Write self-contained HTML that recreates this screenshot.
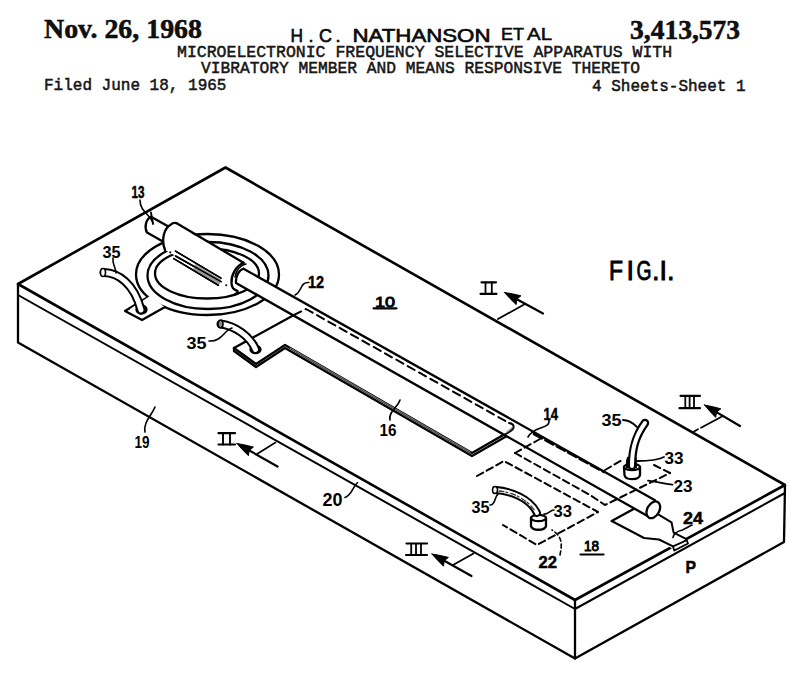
<!DOCTYPE html>
<html><head><meta charset="utf-8">
<style>
html,body{margin:0;padding:0;background:#fff;}
body{width:800px;height:675px;overflow:hidden;position:relative;}
svg{position:absolute;left:0;top:0;}
.mono{font-family:"Liberation Mono",monospace;fill:#222;}
.serif{font-family:"Liberation Serif",serif;font-weight:bold;fill:#111;}
.sans{font-family:"Liberation Sans",sans-serif;fill:#111;}
.lbl{font-family:"Liberation Sans",sans-serif;fill:#000;font-size:17px;font-weight:bold;}
</style></head>
<body>
<svg width="800" height="675" viewBox="0 0 800 675">
<!-- header -->
<text class="serif" x="44" y="37.5" font-size="27" textLength="158" lengthAdjust="spacingAndGlyphs" stroke="#000" stroke-width="0.5">Nov. 26, 1968</text>
<text class="sans" x="290.5" y="42" font-size="18" stroke="#000" stroke-width="0.6" textLength="12.5" lengthAdjust="spacingAndGlyphs">H</text>
<text class="sans" x="308.5" y="42" font-size="18" stroke="#000" stroke-width="0.6">.</text>
<text class="sans" x="319" y="42" font-size="18" stroke="#000" stroke-width="0.6" textLength="13" lengthAdjust="spacingAndGlyphs">C</text>
<text class="sans" x="335.5" y="42" font-size="18" stroke="#000" stroke-width="0.6">.</text>
<text class="sans" x="352.5" y="42" font-size="18" stroke="#000" stroke-width="0.6" textLength="138" lengthAdjust="spacingAndGlyphs">NATHANSON</text>
<text class="sans" x="501" y="40" font-size="17" stroke="#000" stroke-width="0.5" textLength="23" lengthAdjust="spacingAndGlyphs">ET</text>
<text class="sans" x="527" y="40" font-size="17" stroke="#000" stroke-width="0.5" textLength="25" lengthAdjust="spacingAndGlyphs">AL</text>
<text class="serif" x="630" y="39" font-size="27" textLength="110" lengthAdjust="spacingAndGlyphs" stroke="#000" stroke-width="0.5">3,413,573</text>
<text class="mono" x="177" y="57" font-size="16.5" stroke="#000" stroke-width="0.45">MICROELECTRONIC FREQUENCY SELECTIVE APPARATUS WITH</text>
<text class="mono" x="201" y="73" font-size="16.5" stroke="#000" stroke-width="0.45" textLength="439" lengthAdjust="spacingAndGlyphs">VIBRATORY MEMBER AND MEANS RESPONSIVE THERETO</text>
<text class="mono" x="44" y="90" font-size="16" stroke="#000" stroke-width="0.45">Filed June 18, 1965</text>
<text class="mono" x="592" y="90.5" font-size="16" stroke="#000" stroke-width="0.45">4 Sheets-Sheet 1</text>

<g fill="none" stroke="#000" stroke-width="2.3" stroke-linejoin="round" stroke-linecap="round">
<!-- box -->
<path d="M225.5,167.5 L18,284 L575,600 L785,485 Z" fill="#fff" stroke-width="2.6"/>
<path d="M18,284 L18,342.5 L575,658.5 L784,542 L785,485"/>
<path d="M575,600 L575,658.5"/>
<path d="M18,295 L575,609 L785,493" stroke-width="2"/>

<!-- ring -->
<ellipse cx="207.5" cy="274.5" rx="71.5" ry="40.5" fill="#fff"/>
<path d="M148,297 L125,311 L142,320 L165,307" fill="#fff"/>
<path d="M150,296 L130,309 L142,317 L162,305 Z" fill="#fff" stroke="none"/>
<ellipse cx="208" cy="275.5" rx="60.5" ry="33.5" fill="#fff"/>
<!-- left wire 35 -->
<ellipse cx="141.5" cy="309.5" rx="5" ry="4" fill="#111"/>
<path d="M104,272.5 C118,273 134,283 141,310" stroke-width="9"/>
<path d="M104,272.5 C118,273 134,283 141,310" stroke="#fff" stroke-width="5"/>
<ellipse cx="103" cy="272.5" rx="2.5" ry="4" fill="#fff" stroke-width="1.6"/>

<!-- disc -->
<ellipse cx="207" cy="273.5" rx="52" ry="25" fill="#fff"/>

<!-- electrode 16 -->
<path d="M234,348 L294,315 L520,443 L514,431 L472,456 L285,348 L256,367 L234,351 Z" fill="#fff" stroke="none"/>
<path d="M234,348 L234,351 L256,367 L285,348 L472,456 L506,436.5"/>
<path d="M234,348 L294,315"/>
<path d="M234,348 L256,364 L285,345 L472,453 L505,434"/>
<path d="M290,348 L470,452" stroke="#777" stroke-width="1.2"/>

<!-- middle-left wire 35 -->
<ellipse cx="255.5" cy="349.5" rx="5" ry="3.5" fill="#111"/>
<path d="M221,324 C235,326 250,336 255.5,349.5" stroke-width="9"/>
<path d="M221,324 C235,326 250,336 255.5,349.5" stroke="#fff" stroke-width="5"/>
<ellipse cx="220.5" cy="324" rx="2.5" ry="3.8" fill="#888" stroke-width="1.6"/>

<!-- pad 24 -->
<path d="M611.7,521 L641,505 L660,515 L671.5,522.3 L673.6,532.6 L686,538.8 L674,550 L659,539.5 L644,538 Z" fill="#fff" stroke="none"/>
<path d="M611.7,521 L640,505.5 L643,507.5"/>
<path d="M659,514.8 L671.5,522.3 L673.6,532.6 L686,538.8" stroke-width="2"/>
<path d="M611.7,521 L644,538 L659,539.5 L673,546.4" stroke-width="2"/>
<path d="M673,546.4 L686.7,540.2 L688,543.5 L674.3,550.5 Z" fill="#fff" stroke-width="1.8"/>
<!-- rod left part -->
<path d="M151,216.7 C146,219 144,227 147,232.6 L172,246 L180,229 Z" fill="#fff" stroke="none"/>
<path d="M151,216.7 L180,233"/>
<path d="M151,216.7 C146,219 144,227 147,232.6 L170,245.6"/>
<path d="M151,212.5 L153,224" stroke-width="1.8"/>

<!-- sleeve -->
<path d="M173,223 L243.5,262.75 C236,266 231,275 232,286 C232,289 235,290 237.5,290.5 L165,250 C161,240 165,228 173,223 Z" fill="#fff" stroke="none"/>
<path d="M165,250 C161,240 164,228 171,224.5 C173,222.5 176,222.5 178,224 L243.5,262.75"/>
<path d="M243.5,262.75 C236,266 231,275 231.5,283 C231.5,288 234,290 237.5,290.8 C238,292.5 237,293.5 235,294.5" />
<path d="M246,264 C241,264.5 236,270 235,277" stroke-width="1.5"/>
<!-- rod right of sleeve -->
<path d="M243.5,268.75 L655,500.2 L647.5,516 L236,283 C235,276 239,270 243.5,268.75 Z" fill="#fff" stroke="none"/>
<path d="M243.5,268.75 L655,500.2"/>
<path d="M243.5,268.75 C239,270 235.5,276 236,283 L647.5,516"/>
<ellipse cx="653.3" cy="509.8" rx="6" ry="9" transform="rotate(29.5 653.3 509.8)" fill="#fff"/>
<!-- sleeve highlights -->
<path d="M175.5,251.1 L221,278.2 M175.5,256 L221,281.7 M173.75,258.6 L218.4,285.25" stroke-width="1.5"/>
<path d="M195,264 L221,279.5 L221,281.7 L218.4,285.25 L193,270 Z" fill="#999" stroke="none"/>
<path d="M175.5,251.1 L221,278.2 M175.5,256 L221,281.7 M173.75,258.6 L218.4,285.25" stroke-width="1.5"/>
<circle cx="170.25" cy="252.4" r="1.1" fill="#111" stroke="none"/>
<circle cx="226.25" cy="285.25" r="1.1" fill="#111" stroke="none"/>

<!-- dashed hidden edges -->
<path d="M294,315 L306,309 L509,423" stroke-dasharray="8,5" stroke-width="2"/>
<path d="M504,435 L510,431.5 C515,428.5 515,424 509,423" stroke-width="2"/>
<path d="M507,432 L512,428" stroke="#888" stroke-width="1.5"/>
<path d="M534,434 L604,472" stroke-width="2.6" stroke-dasharray="9,4"/>
<path d="M515,453 L540,439" stroke-dasharray="7,4" stroke-width="2"/>
<path d="M515,453 L590,495 L605,505 L670,473" stroke-dasharray="7,4" stroke-width="2"/>
<path d="M477,476 L504,461 L598,512 L537,545 L503,525" stroke-dasharray="7,4" stroke-width="2"/>
<path d="M605,470 L624,459 M654,465 L670,473" stroke-dasharray="7,4" stroke-width="2"/>

<!-- terminal 33 lower + wire -->
<path d="M531,518 L531,526 C532,531 545,531 546,526 L546,518" fill="#fff"/>
<ellipse cx="538.5" cy="518" rx="7.5" ry="3.2" fill="#fff"/>
<path d="M496,490 C510,491 530,498 537,513" stroke-width="8"/>
<path d="M496,490 C510,491 530,498 537,513" stroke="#fff" stroke-width="4"/>
<path d="M499,491 C512,492 527,499 535,511" stroke="#333" stroke-width="1.3" stroke-dasharray="5,2,2,3"/>
<ellipse cx="495" cy="490" rx="2.5" ry="3.5" fill="#fff" stroke-width="1.5"/>

<!-- terminal 33 upper + wire -->
<path d="M624,467 L624.5,475 C625,480.5 639,480.5 640,475 L640,467" fill="#fff"/>
<ellipse cx="632" cy="467" rx="8" ry="3.2" fill="#fff"/>
<path d="M628,458 L627,467 L636,467 L635.5,458 Z" fill="#fff"/>
<path d="M632,466 C632,452 634,438 645,423" stroke-width="8.5"/>
<path d="M632,466 C632,452 634,438 645,423" stroke="#fff" stroke-width="4"/>
<path d="M627.5,460 L627,466" stroke-width="2.5"/>

<!-- section arrows -->
<path d="M504.5,292.5 Q510.1,299.0 516.2,304.6 L516.8,299.2 L520.9,295.8 Q513.0,293.7 504.5,292.5 Z" fill="#000" stroke-width="1"/>
<path d="M515.0,298.2 L543,313.5" stroke-width="2.2"/>
<path d="M498,319 L525,304" stroke-width="1.8"/>
<path d="M704.5,405.0 Q709.9,411.7 715.7,417.4 L716.5,412.1 L720.8,408.8 Q712.9,406.5 704.5,405.0 Z" fill="#000" stroke-width="1"/>
<path d="M714.8,411.1 L740,426" stroke-width="2.2"/>
<path d="M694,431.5 L698,429.3 M701,427.7 L722,416.5" stroke-width="1.8"/>
<path d="M237.0,443.5 Q242.5,450.1 248.4,455.7 L249.2,450.4 L253.4,447.1 Q245.4,444.8 237.0,443.5 Z" fill="#000" stroke-width="1"/>
<path d="M247.4,449.4 L277.5,466.5" stroke-width="2.2"/>
<path d="M257,454 L275.5,442.5" stroke-width="1.6"/>
<path d="M432.0,554.0 Q437.5,560.5 443.5,566.2 L444.2,560.8 L448.4,557.4 Q440.4,555.3 432.0,554.0 Z" fill="#000" stroke-width="1"/>
<path d="M442.5,559.8 L471.5,576" stroke-width="2.2"/>
<path d="M453,565 L473.5,553.5" stroke-width="1.8"/>
<!-- roman numerals -->
<g stroke-linecap="round">
<path d="M481.5,282.3 L496,282.3 M480.5,293.8 L496.5,293.8" stroke-width="2.2"/>
<path d="M485.5,282.5 L485.5,293.5 M491.8,282.5 L491.8,293.5" stroke-width="1.8"/>
<path d="M680.5,395.8 L700,395.8 M679.5,408.2 L700,408.2" stroke-width="2.2"/>
<path d="M685.3,396 L685.3,408 M689.6,396 L689.6,408 M694,396 L694,408" stroke-width="1.8"/>
<path d="M218.5,433.2 L235,433.2 M218.5,444.5 L235,444.5" stroke-width="2.2"/>
<path d="M223,433.5 L223,444.5 M230,433.5 L230,444.5" stroke-width="1.9"/>
<path d="M406.5,543.5 L427,543.5 M406,555 L427,555" stroke-width="2.2"/>
<path d="M411.2,543.8 L411.2,555 M416,543.8 L416,555 M421,543.8 L421,555" stroke-width="1.8"/>
</g>

<!-- leaders -->
<path d="M140,200 C140,212 150,214 153,223" stroke-width="1.6"/>
<path d="M113,258 C112,264 116,268 116,273" stroke-width="1.6"/>
<path d="M308.75,282.5 C300,282 302,292 295,295" stroke-width="1.6"/>
<path d="M209,341 C222,342 224,330 232,328" stroke-width="1.6"/>
<path d="M390,420 C388,412 398,407 400,400" stroke-width="1.6"/>
<path d="M145,432 C143,422 152,415 155,407" stroke-width="1.6"/>
<path d="M345,497.5 C352,495 352,488 357.5,482.5" stroke-width="1.6"/>
<path d="M549,420 C550,430 535,425 528,437" stroke-width="1.6"/>
<path d="M490,505 C496,505 494,497 498,494" stroke-width="1.6"/>
<path d="M554,510 C550,510 548,515 544,514" stroke-width="1.6"/>
<path d="M560,555 C562,545 563,537 552,530" stroke-dasharray="4,3" stroke-width="1.6"/>
<path d="M692,525 C688,527 685,529 682.5,530 C678,531 674,533 673,537.5" stroke-width="1.6"/>
<path d="M672.5,484.7 C665,484 660,482 648,480.6" stroke-width="1.8"/>
<path d="M664,457 C658,460 650,461 637.5,461" stroke-width="1.8"/>
<path d="M623,420 C628,420 632,422 637,427" stroke-width="1.8"/>
<path d="M373.5,308.3 L396.5,308.3" stroke-width="2.2"/>
<path d="M580.5,554.5 L603.5,554.5" stroke-width="2.2"/>
</g>

<!-- labels -->
<g class="lbl">
<text x="131.5" y="197.5" stroke="#000" stroke-width="0.5" textLength="13" lengthAdjust="spacingAndGlyphs">13</text>
<text x="102.5" y="257.5" textLength="18" lengthAdjust="spacingAndGlyphs">35</text>
<text x="308" y="288" stroke="#000" stroke-width="0.5" textLength="16" lengthAdjust="spacingAndGlyphs">12</text>
<text x="375" y="306.5" font-size="15.5" font-weight="normal" stroke="#000" stroke-width="0.9" textLength="20" lengthAdjust="spacingAndGlyphs">10</text>
<text x="186.5" y="348.5" textLength="20" lengthAdjust="spacingAndGlyphs">35</text>
<text x="379.5" y="435.5" textLength="17" lengthAdjust="spacingAndGlyphs">16</text>
<text x="134.5" y="448" textLength="15" lengthAdjust="spacingAndGlyphs">19</text>
<text x="322.5" y="505.5" font-size="18" textLength="20" lengthAdjust="spacingAndGlyphs">20</text>
<text x="543.5" y="420" stroke="#000" stroke-width="0.5" textLength="14.5" lengthAdjust="spacingAndGlyphs">14</text>
<text x="471.5" y="512.5" textLength="18" lengthAdjust="spacingAndGlyphs">35</text>
<text x="553.5" y="516.5" textLength="18.5" lengthAdjust="spacingAndGlyphs">33</text>
<text x="584" y="551" font-size="14.5" font-weight="normal" stroke="#000" stroke-width="0.9" textLength="15" lengthAdjust="spacingAndGlyphs">18</text>
<text x="538.5" y="568" stroke="#000" stroke-width="0.5" textLength="18.5" lengthAdjust="spacingAndGlyphs">22</text>
<text x="685.5" y="573" stroke="#000" stroke-width="0.5" textLength="10.5" lengthAdjust="spacingAndGlyphs">P</text>
<text x="683" y="524" stroke="#000" stroke-width="0.5" textLength="20" lengthAdjust="spacingAndGlyphs">24</text>
<text x="673.5" y="491.5" textLength="19" lengthAdjust="spacingAndGlyphs">23</text>
<text x="664.5" y="463.5" textLength="19" lengthAdjust="spacingAndGlyphs">33</text>
<text x="601.5" y="425.5" textLength="20" lengthAdjust="spacingAndGlyphs">35</text>
<g font-size="27" font-weight="normal" stroke="#000" stroke-width="0.9">
<text x="609" y="279.5" textLength="14" lengthAdjust="spacingAndGlyphs">F</text>
<text x="626.5" y="279.5">I</text>
<text x="636.5" y="279.5" textLength="15" lengthAdjust="spacingAndGlyphs">G</text>
<text x="652" y="279.5">.</text>
<text x="659.5" y="279.5">I</text>
<text x="667" y="279.5">.</text>
</g>
</g>

</svg>
</body></html>
